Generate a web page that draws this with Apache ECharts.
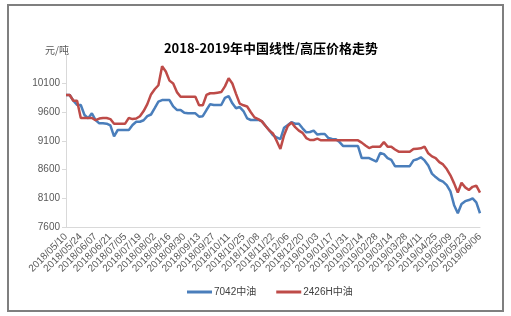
<!DOCTYPE html>
<html><head><meta charset="utf-8">
<script src="https://cdn.jsdelivr.net/npm/echarts@6/dist/echarts.min.js"></script>
<style>html,body{margin:0;padding:0;background:#fff}#c{width:511px;height:316px}</style>
</head><body><div id="c"></div>
<script>
const titleText = '2018-2019年中国线性/高压价格走势';
const unitText = '元/吨';
const seriesNames = ['7042中油', '2426H中油'];
const yTicks = [7600, 8100, 8600, 9100, 9600, 10100];
const categories = [
'2018/05/10','2018/05/14','2018/05/17','2018/05/21','2018/05/24','2018/05/28','2018/05/31','2018/06/04',
'2018/06/07','2018/06/11','2018/06/14','2018/06/18','2018/06/21','2018/06/25','2018/06/28','2018/07/02',
'2018/07/05','2018/07/09','2018/07/12','2018/07/16','2018/07/19','2018/07/23','2018/07/26','2018/07/30',
'2018/08/02','2018/08/06','2018/08/09','2018/08/13','2018/08/16','2018/08/20','2018/08/23','2018/08/27',
'2018/08/30','2018/09/03','2018/09/06','2018/09/10','2018/09/13','2018/09/17','2018/09/20','2018/09/24',
'2018/09/27','2018/10/01','2018/10/04','2018/10/08','2018/10/11','2018/10/15','2018/10/18','2018/10/22',
'2018/10/25','2018/10/29','2018/11/01','2018/11/05','2018/11/08','2018/11/12','2018/11/15','2018/11/19',
'2018/11/22','2018/11/26','2018/11/29','2018/12/03','2018/12/06','2018/12/10','2018/12/13','2018/12/17',
'2018/12/20','2018/12/24','2018/12/27','2018/12/31','2019/01/03','2019/01/07','2019/01/10','2019/01/14',
'2019/01/17','2019/01/21','2019/01/24','2019/01/28','2019/01/31','2019/02/04','2019/02/07','2019/02/11',
'2019/02/14','2019/02/18','2019/02/21','2019/02/25','2019/02/28','2019/03/04','2019/03/07','2019/03/11',
'2019/03/14','2019/03/18','2019/03/21','2019/03/25','2019/03/28','2019/04/01','2019/04/04','2019/04/08',
'2019/04/11','2019/04/15','2019/04/18','2019/04/22','2019/04/25','2019/04/29','2019/05/02','2019/05/06',
'2019/05/09','2019/05/13','2019/05/16','2019/05/20','2019/05/23','2019/05/27','2019/05/30','2019/06/03',
'2019/06/06'];
const blue7042 = [
9900,9900,9800,9725,9725,9551,9494,9580,
9464,9406,9406,9400,9370,9180,9290,9290,
9290,9290,9377,9434,9434,9460,9530,9560,
9670,9784,9812,9812,9812,9700,9640,9640,
9590,9580,9580,9580,9522,9530,9638,9740,
9725,9725,9725,9850,9880,9755,9668,9690,
9620,9494,9464,9464,9470,9440,9360,9285,
9200,9160,9130,9330,9377,9425,9400,9400,
9319,9250,9255,9280,9210,9220,9220,9150,
9135,9130,9080,9010,9010,9010,9010,9010,
8800,8800,8800,8768,8740,8890,8870,8800,
8768,8660,8660,8660,8660,8660,8760,8780,
8814,8760,8670,8530,8470,8419,8390,8330,
8220,7980,7840,8000,8050,8070,8100,8030,
7840];
const red2426H = [
9900,9900,9800,9800,9500,9500,9500,9500,
9460,9490,9500,9500,9480,9400,9400,9400,
9400,9500,9480,9490,9530,9620,9740,9910,
10000,10070,10400,10310,10150,10100,9950,9870,
9870,9870,9870,9870,9720,9720,9900,9930,
9930,9940,9950,10050,10190,10100,9920,9750,
9720,9700,9600,9510,9480,9440,9360,9280,
9230,9100,8960,9200,9360,9420,9340,9280,
9240,9150,9116,9116,9140,9110,9110,9110,
9110,9110,9110,9110,9110,9110,9110,9110,
9070,9020,8975,9000,9000,9000,9080,9000,
9000,8950,8912,8912,8912,8912,8960,8965,
8970,9000,8884,8830,8800,8730,8690,8610,
8500,8360,8200,8370,8290,8245,8300,8320,
8200];

const FONT = '"Liberation Sans", "Noto Sans CJK SC", sans-serif';
const chart = echarts.init(document.getElementById('c'), null, {renderer: 'canvas'});
chart.setOption({
  animation: false,
  backgroundColor: '#fff',
  textStyle: {fontFamily: FONT},
  title: {
    text: titleText, left: 266, textAlign: 'center', top: 37,
    textStyle: {fontSize: 13, fontWeight: 'bold', color: '#000', fontFamily: '"Noto Sans CJK SC", sans-serif'}
  },
  graphic: [
    {type: 'rect', shape: {x: 8, y: 5, width: 495, height: 306}, style: {fill: 'none', stroke: '#7f7f7f', lineWidth: 2}, silent: true},
    {type: 'text', left: 45, top: 45, style: {text: unitText, fontSize: 10, fill: '#595959', fontFamily: '"Noto Sans CJK SC", sans-serif'}}
  ],
  legend: {
    bottom: 14, left: 182, itemGap: 20, itemWidth: 25, itemHeight: 3, icon: 'rect',
    textStyle: {fontSize: 10, color: '#404040', fontFamily: FONT, padding: [0, 0, 0, -3]},
    data: seriesNames
  },
  grid: {left: 66, right: 31, top: 54.8, bottom: 89, containLabel: false},
  xAxis: {
    type: 'category', data: categories, boundaryGap: false,
    axisLine: {lineStyle: {color: '#d9d9d9', width: 1}},
    axisTick: {show: false},
    axisLabel: {interval: 3, rotate: 45, fontSize: 10, color: '#595959', margin: 8, fontFamily: FONT}
  },
  yAxis: {
    type: 'value', min: 7600, max: 10600, interval: 500,
    axisLine: {show: true, lineStyle: {color: '#d9d9d9', width: 1}},
    axisTick: {show: true, length: 4, lineStyle: {color: '#d9d9d9'}},
    splitLine: {show: false},
    axisLabel: {fontSize: 10, color: '#595959', margin: 6, showMaxLabel: false, fontFamily: FONT,
      formatter: v => (yTicks.indexOf(v) >= 0 ? String(v) : '')}
  },
  series: [
    {name: seriesNames[0], type: 'line', data: blue7042, showSymbol: false, symbol: 'none',
      lineStyle: {color: '#4a7ebb', width: 2.5}, itemStyle: {color: '#4a7ebb'}, z: 2},
    {name: seriesNames[1], type: 'line', data: red2426H, showSymbol: false, symbol: 'none',
      lineStyle: {color: '#be4b48', width: 2.5}, itemStyle: {color: '#be4b48'}, z: 3}
  ]
});
</script>
</body></html>
